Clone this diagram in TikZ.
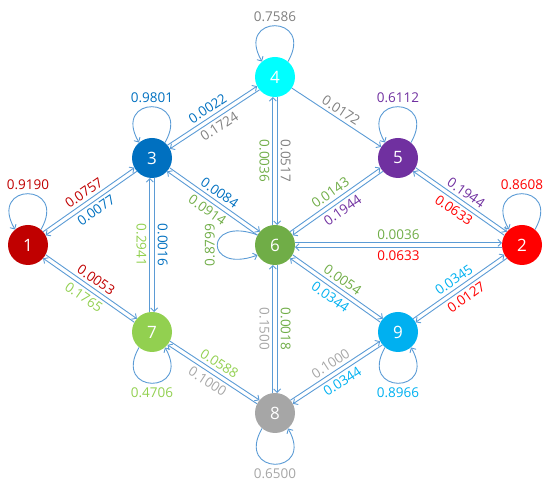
\documentclass[tikz,border=0pt]{standalone}
\usepackage{fontspec}
\setmainfont{Open Sans}
\usetikzlibrary{calc,arrows.meta}

\definecolor{c1}{HTML}{C00000}
\definecolor{c2}{HTML}{FF0000}
\definecolor{c3}{HTML}{0070C0}
\definecolor{c4}{HTML}{00FFFF}
\definecolor{t4}{HTML}{7F7F7F}
\definecolor{c5}{HTML}{7030A0}
\definecolor{c6}{HTML}{70AD47}
\definecolor{c7}{HTML}{92D050}
\definecolor{c8}{HTML}{A6A6A6}
\definecolor{c9}{HTML}{00B0F0}
\definecolor{edgeblue}{HTML}{5B9BD5}

\tikzset{
  state/.style={circle, minimum size=40pt, inner sep=0pt, text=white,
    font=\fontsize{17}{17}\selectfont},
  flow/.style={draw=edgeblue, line width=0.9pt,
    arrows={-Straight Barb[length=3.5pt,width=7pt]}},
  lab/.style={inner sep=2pt, font=\fontsize{13.5}{13.5}\selectfont}
}

\begin{document}
\begin{tikzpicture}[x=1pt, y=1pt]
    \useasboundingbox (0,0) rectangle (550,487);

    % States
    \foreach \n/\x/\y/\c in {1/28/242/c1, 2/522/242/c2, 3/152/329/c3,
                             4/275/410/c4, 5/398/329/c5, 6/275/242/c6,
                             7/152/155/c7, 8/275/74/c8, 9/398/155/c9}
        \node[state, fill=\c] (n\n) at (\x,\y) {\n};

    % Self loops above
    \foreach \n/\p/\c in {1/0.9190/c1, 3/0.9801/c3, 4/0.7586/t4,
                          5/0.6112/c5, 2/0.8608/c2}
        \draw[flow] (n\n.50) .. controls +(60:55) and +(120:55) ..
            node[lab, above=2pt, text=\c] {\p} (n\n.130);

    % Self loops below
    \foreach \n/\p/\c in {7/0.4706/c7, 8/0.6500/c8, 9/0.8966/c9}
        \draw[flow] (n\n.230) .. controls +(240:55) and +(300:55) ..
            node[lab, below=2pt, text=\c] {\p} (n\n.310);

    % Self loop of 6
    \draw[flow] (n6.150) .. controls +(160:57) and +(200:57) ..
        node[lab, anchor=south, rotate=90, text=c6] {0.8799} (n6.210);

    % Transitions both ways
    \foreach \a/\b/\pab/\cab/\pba/\cba in {
        1/3/0.0757/c1/0.0077/c3,
        3/4/0.0022/c3/0.1724/t4,
        3/6/0.0084/c3/0.0914/c6,
        3/7/0.0016/c3/0.2941/c7,
        4/6/0.0517/t4/0.0036/c6,
        6/5/0.0143/c6/0.1944/c5,
        5/2/0.1944/c5/0.0633/c2,
        6/2/0.0036/c6/0.0633/c2,
        1/7/0.0053/c1/0.1765/c7,
        7/8/0.0588/c7/0.1000/c8,
        6/8/0.0018/c6/0.1500/c8,
        6/9/0.0054/c6/0.0344/c9,
        8/9/0.1000/c8/0.0344/c9,
        9/2/0.0345/c9/0.0127/c2}
    {
        \draw[flow] ($(n\a)!20pt!(n\b)!2.2pt!90:(n\b)$) --
            node[lab, sloped, above=1pt, text=\cab] {\pab}
            ($(n\b)!20pt!(n\a)!2.2pt!-90:(n\a)$);
        \draw[flow, arrows={Straight Barb[length=3.5pt,width=7pt]-}]
            ($(n\a)!20pt!(n\b)!2.2pt!-90:(n\b)$) --
            node[lab, sloped, below=1pt, text=\cba] {\pba}
            ($(n\b)!20pt!(n\a)!2.2pt!90:(n\a)$);
    }

    % One way transition
    \draw[flow] (n4) -- node[lab, sloped, above=1pt, text=t4] {0.0172} (n5);

\end{tikzpicture}
\end{document}
